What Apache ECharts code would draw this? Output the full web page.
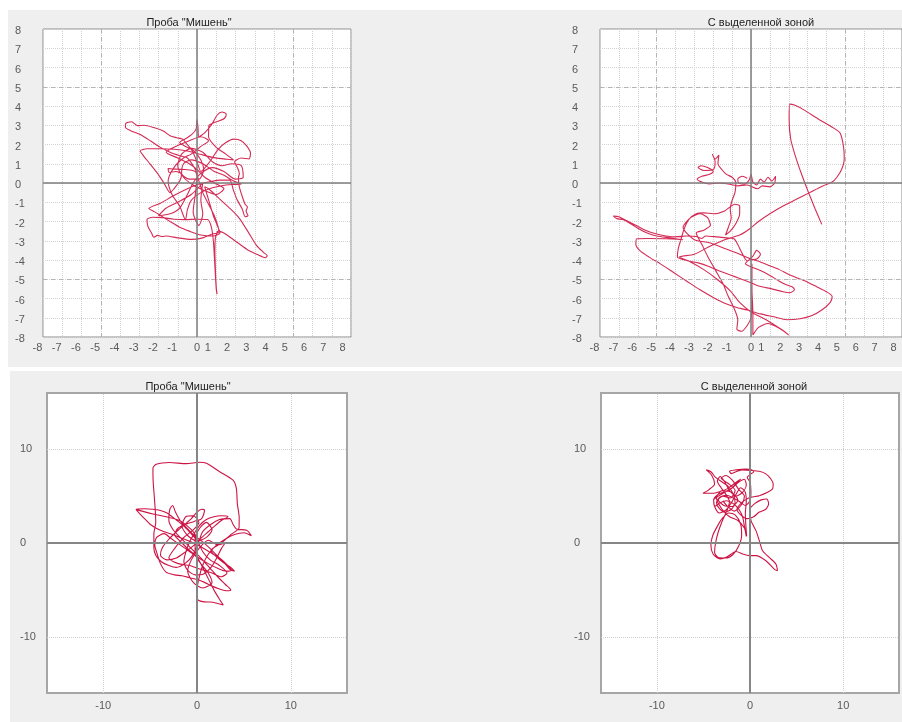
<!DOCTYPE html>
<html>
<head>
<meta charset="utf-8">
<script src="https://cdn.jsdelivr.net/npm/echarts@6/dist/echarts.min.js"></script>
<style>
  html, body { margin: 0; padding: 0; background: #ffffff; }
  #chart { width: 902px; height: 722px; }
</style>
</head>
<body>
<div id="chart"></div>
<script>
// Panel titles
const titleTrial = 'Проба "Мишень"';
const titleZone = 'С выделенной зоной';

// Tick values
const smallTicks = [-8, -7, -6, -5, -4, -3, -2, -1, 0, 1, 2, 3, 4, 5, 6, 7, 8];
const wideTicks = [-10, 0, 10];

// Centre-of-pressure trajectory, trial "Мишень" (upper panel, ±8 scale)
const trialSmall = [
  [0.05,0.45],[-0.2,0.9],[-0.5,1.3],[-0.9,1.42],[-1.4,1.6],[-1.9,1.85],[-2.4,2.18],[-2.95,2.52],[-3.45,2.72],[-3.72,2.9],
  [-3.7,3.1],[-3.4,3.18],[-3.1,2.98],[-2.75,3.0],[-2.25,2.88],[-1.75,2.7],[-1.4,2.45],[-1.05,2.35],[-0.75,2.28],[-0.55,2.05],
  [-0.3,1.75],[-0.1,1.35],[0.05,0.95],[0.2,0.6],[0.5,0.9],[0.8,1.3],[1.1,1.75],[1.5,2.1],[1.9,2.28],[2.3,2.2],
  [2.6,1.9],[2.78,1.55],[2.7,1.25],[2.3,1.3],[1.95,1.1],[2.1,0.8],[2.2,0.5],[2.15,0.25],[2.2,-0.2],[2.35,-0.7],
  [2.5,-1.1],[2.62,-1.25],[2.55,-1.45],[2.65,-1.7],[2.5,-1.75],[2.35,-1.35],[2.1,-0.9],[1.9,-0.4],[1.7,0.15],[1.2,0.15],
  [0.6,0.05],[0.1,-0.05],[-0.5,-0.3],[-1.2,-0.65],[-1.9,-1.05],[-2.5,-1.33],[-2.2,-1.5],[-1.8,-1.75],[-1.4,-2.0],[-0.9,-2.3],
  [-0.4,-2.5],[0.2,-2.7],[0.8,-2.75],[1.2,-2.6],[1.05,-2.2],[0.85,-1.7],[0.7,-1.2],[0.55,-0.7],[0.4,-0.2],[0.6,-0.3],
  [1.2,-0.85],[1.9,-1.5],[2.25,-1.9],[2.68,-2.58],[3.1,-3.25],[3.45,-3.6],[3.65,-3.78],[3.55,-3.88],[3.1,-3.7],[2.6,-3.45],
  [1.9,-2.95],[1.4,-2.6],[1.1,-2.5],[0.95,-2.9],[0.93,-3.6],[0.95,-4.3],[0.97,-4.9],[1.0,-5.4],[1.04,-5.78],[1.0,-5.5],
  [0.95,-4.7],[0.9,-3.8],[0.85,-3.0],[0.75,-2.3],[0.55,-1.9],[0.0,-1.88],[-0.6,-1.9],[-1.2,-1.88],[-1.8,-1.8],[-2.3,-1.78],
  [-2.6,-1.9],[-2.55,-2.25],[-2.35,-2.62],[-2.25,-2.82],[-2.05,-2.72],[-1.8,-2.78],[-1.6,-2.75],[-1.0,-2.85],[-0.3,-2.93],[0.3,-2.85],
  [0.8,-2.65],[1.15,-2.55],[0.9,-1.7],[0.6,-1.1],[0.3,-0.5],[0.1,0.1],[-0.1,0.6],[-0.6,0.7],[-1.1,0.72],[-1.5,0.75],
  [-1.45,0.55],[-1.1,0.6],[-0.8,0.45],[-0.9,0.1],[-1.2,-0.3],[-1.4,-0.5],[-1.73,0.02],[-2.08,0.54],[-2.42,0.97],[-2.77,1.4],
  [-2.95,1.66],[-2.6,1.78],[-1.9,1.78],[-1.2,1.75],[-0.5,1.66],[0.17,1.49],[0.87,1.32],[1.56,1.23],[1.9,1.2],[1.5,1.5],
  [1.0,1.85],[0.6,2.4],[0.62,2.99],[0.87,3.13],[1.13,3.22],[1.42,3.35],[1.52,3.57],[1.3,3.69],[1.04,3.52],[0.8,3.1],
  [0.4,2.6],[0.1,2.4],[0.05,2.9],[0.0,3.3],[-0.05,2.8],[-0.3,2.5],[-0.6,2.3],[-0.9,2.1],[-0.6,1.9],[-0.2,1.7],
  [0.2,1.2],[0.35,0.7],[0.1,0.2],[-0.4,0.2],[-0.8,0.5],[-0.7,1.0],[-0.3,1.2],[0.3,1.0],[0.9,0.6],[1.4,0.4],
  [1.9,0.1],[2.3,-0.05],[1.5,-0.1],[0.8,-0.25],[0.2,-0.5],[-0.3,-0.9],[-0.5,-1.4],[-0.6,-1.9],[-0.9,-1.2],[-1.3,-0.6],
  [-1.5,0.1],[-1.2,0.8],[-0.7,1.3],[-0.3,1.5],[0.2,1.9],[0.6,2.2],[0.2,2.4],[-0.4,2.2],[-1.0,1.95],[-1.6,1.6],
  [-1.0,1.3],[-0.4,1.0],[0.0,0.7],[0.4,0.3],[0.9,0.0],[1.4,-0.3],[1.0,-0.6],[0.4,-0.4],[-0.2,-0.1],[-0.7,0.3],
  [-1.0,0.9],[-0.8,1.5],[-0.3,1.8],[0.3,1.6],[0.8,1.1],[1.3,0.9],[1.8,1.0],[2.3,0.9],[2.4,0.3],[2.0,0.2],
  [1.4,0.6],[0.8,0.8],[0.2,0.5],[-0.2,0.0],[-0.5,-0.6],[-0.9,-1.3],[-1.4,-1.6],[-2.0,-1.7],[-1.6,-1.3],[-1.0,-1.0],
  [-0.3,-0.6],[0.3,0.0],[0.2,-0.9],[0.3,-1.6],[0.1,-2.2],[-0.2,-1.5],[-0.1,-0.7],[0.0,0.2]
];

// Centre-of-pressure trajectory, "С выделенной зоной" (upper panel, ±8 scale)
const zoneSmall = [
  [-0.2,0.25],[-0.45,0.35],[-0.7,0.2],[-0.65,0.0],[-0.35,-0.05],[-0.1,0.15],[0.0,0.45],[0.1,0.05],[0.3,-0.1],[0.5,0.2],
  [0.7,0.05],[0.9,0.3],[1.1,0.1],[1.3,0.35],[1.25,0.0],[1.0,-0.2],[0.6,-0.15],[0.35,-0.3],[-0.2,-0.1],[-0.7,-0.15],
  [-1.2,-0.05],[-1.7,0.0],[-2.2,-0.05],[-2.6,0.05],[-2.85,0.2],[-2.6,0.35],[-2.2,0.45],[-2.0,0.6],[-2.3,0.8],[-2.65,0.9],
  [-2.8,0.8],[-2.5,0.65],[-2.0,0.7],[-1.9,1.1],[-2.05,1.5],[-1.9,1.25],[-1.7,1.45],[-1.75,1.0],[-1.55,0.7],[-1.3,0.45],
  [-1.0,0.3],[-0.8,0.0],[-0.85,-0.5],[-1.0,-0.9],[-1.1,-1.35],[-1.05,-1.8],[-1.2,-2.3],[-1.35,-2.7],[-1.1,-2.5],[-0.8,-2.1],
  [-0.6,-1.6],[-0.6,-1.2],[-0.85,-1.1],[-1.4,-1.45],[-2.0,-1.6],[-2.5,-1.55],[-2.9,-1.6],[-3.3,-1.9],[-3.55,-2.4],[-3.7,-2.9],
  [-3.85,-3.4],[-3.9,-3.85],[-3.3,-4.05],[-2.8,-4.15],[-2.2,-4.35],[-1.6,-4.6],[-0.9,-4.85],[-0.2,-5.1],[0.4,-5.35],[1.1,-5.5],
  [1.7,-5.65],[2.05,-5.7],[2.3,-5.55],[2.2,-5.4],[1.9,-5.3],[1.5,-5.1],[1.0,-4.8],[0.5,-4.55],[0.0,-4.35],[-0.3,-4.2],
  [-0.1,-4.0],[0.3,-3.95],[0.5,-3.7],[0.3,-3.5],[0.1,-3.8],[-0.2,-4.05],[-0.5,-3.6],[-0.7,-3.2],[-0.9,-2.9],[-1.3,-2.85],
  [-1.8,-2.8],[-2.4,-2.75],[-2.6,-2.88],[-2.9,-2.78],[-3.4,-2.75],[-4.0,-2.8],[-4.5,-2.75],[-5.0,-2.65],[-5.6,-2.45],[-6.1,-2.2],
  [-6.6,-1.95],[-7.0,-1.75],[-7.3,-1.72],[-7.1,-1.85],[-6.8,-1.9],[-6.4,-2.1],[-6.0,-2.35],[-5.5,-2.6],[-5.0,-2.75],[-4.3,-2.85],
  [-3.6,-2.95],[-4.5,-2.9],[-5.5,-2.88],[-6.05,-2.9],[-6.1,-3.2],[-5.9,-3.5],[-5.4,-3.85],[-4.8,-4.2],[-4.1,-4.65],[-3.4,-5.1],
  [-2.7,-5.55],[-2.0,-5.95],[-1.4,-6.25],[-0.8,-6.45],[-0.2,-6.6],[0.5,-6.8],[1.2,-6.95],[1.9,-7.1],[2.6,-7.05],[3.2,-6.9],
  [3.75,-6.6],[4.2,-6.2],[4.3,-5.9],[4.0,-5.65],[3.5,-5.4],[3.0,-5.15],[2.5,-4.95],[2.0,-4.75],[1.5,-4.5],[1.0,-4.3],
  [0.5,-4.1],[0.0,-3.95],[-0.6,-3.7],[-1.4,-3.4],[-2.2,-3.1],[-3.0,-2.95],[-3.6,-2.3],[-3.2,-1.8],[-2.7,-1.6],[-2.3,-1.8],
  [-2.15,-2.2],[-2.5,-2.45],[-2.9,-2.6],[-2.6,-3.2],[-2.3,-3.8],[-1.9,-4.5],[-1.5,-5.2],[-1.2,-5.9],[-0.9,-6.5],[-0.7,-7.1],
  [-0.75,-7.6],[-0.5,-7.7],[-0.2,-7.4],[0.0,-7.0],[0.05,-6.0],[0.05,-5.0],[0.05,-4.2],[0.05,-5.5],[0.1,-6.8],[0.1,-7.9],
  [0.4,-7.5],[0.9,-7.3],[1.5,-7.55],[2.0,-7.9],[1.6,-7.6],[0.8,-7.1],[0.0,-6.7],[-0.6,-6.2],[-1.1,-5.6],[-1.8,-5.0],
  [-2.5,-4.5],[-3.2,-4.1],[-3.8,-3.85],[-3.0,-3.7],[-2.2,-3.3],[-1.4,-2.95],[-0.6,-2.7],[-0.1,-2.4],[0.4,-2.0],[1.0,-1.6],
  [1.7,-1.2],[2.4,-0.85],[3.1,-0.5],[3.8,-0.15],[4.3,0.05],[4.55,0.3],[4.8,0.7],[4.94,1.25],[4.9,1.9],[4.72,2.6],
  [4.3,2.9],[3.6,3.3],[2.8,3.8],[2.3,4.05],[2.05,4.1],[2.02,3.3],[2.1,2.3],[2.35,1.4],[2.7,0.4],[3.05,-0.5],
  [3.4,-1.35],[3.75,-2.15]
];

// Trial "Мишень", lower panel (±16 scale)
const trialWide = [
  [0.0,0.3],[-0.8,1.2],[-1.6,2.0],[-2.4,2.6],[-3.2,3.2],[-4.0,3.5],[-4.8,3.6],[-5.6,3.65],[-6.5,3.6],[-6.1,3.1],
  [-5.6,2.6],[-5.0,2.0],[-4.3,1.55],[-3.5,1.2],[-2.6,0.9],[-1.6,0.5],[-0.6,0.1],[0.4,-0.4],[1.4,-1.0],[2.4,-1.6],
  [3.2,-2.3],[3.7,-2.9],[3.1,-3.0],[2.2,-2.7],[1.2,-2.2],[0.2,-1.6],[-0.8,-0.9],[-1.8,-0.2],[-2.8,0.5],[-3.5,1.0],
  [-4.3,0.6],[-4.5,-0.2],[-4.3,-1.0],[-3.9,-2.2],[-3.3,-3.1],[-2.4,-3.4],[-1.6,-3.5],[-0.8,-3.7],[0.0,-3.9],[0.8,-4.2],
  [1.6,-4.6],[2.4,-4.9],[3.2,-5.1],[3.6,-5.0],[3.0,-4.4],[2.2,-3.6],[1.4,-2.7],[0.6,-1.8],[-0.2,-1.0],[-1.0,-0.2],
  [-1.8,0.6],[-2.6,1.5],[-3.0,2.4],[-2.9,3.6],[-2.6,4.0],[-2.3,3.3],[-1.8,2.4],[-1.1,1.6],[-0.3,0.8],[0.5,0.2],
  [1.3,-0.5],[2.1,-1.3],[2.9,-2.1],[3.5,-2.8],[4.0,-3.0],[3.6,-2.6],[2.7,-2.0],[1.5,-0.8],[2.6,0.0],[3.6,0.9],
  [4.48,1.6],[4.5,2.7],[4.3,4.2],[4.2,5.8],[3.84,6.7],[2.42,7.6],[1.0,8.5],[0.28,8.61],[-1.14,8.47],[-2.92,8.58],
  [-4.34,8.4],[-4.7,8.0],[-4.68,6.65],[-4.55,4.87],[-4.45,3.45],[-4.4,2.2],[-4.6,1.0],[-4.6,-0.5],[-4.4,-1.3],[-3.8,-2.0],
  [-3.0,-2.4],[-2.2,-2.6],[-1.3,-2.2],[-0.6,-1.5],[0.0,-0.4],[0.6,1.2],[1.5,2.0],[2.4,2.5],[3.5,2.6],[3.84,2.0],
  [4.2,1.5],[5.3,1.35],[5.8,0.78],[5.0,1.1],[4.0,0.9],[3.0,0.4],[2.0,-0.3],[1.2,-1.2],[0.6,-2.4],[0.2,-3.8],
  [0.0,-5.0],[0.05,-6.0],[0.6,-6.25],[1.4,-6.3],[2.0,-6.4],[2.8,-6.6],[2.4,-6.0],[1.8,-5.0],[1.2,-3.8],[0.6,-2.6],
  [0.0,-1.5],[-0.8,-0.8],[-1.6,0.0],[-2.4,0.9],[-2.0,1.6],[-1.2,2.0],[-0.3,2.3],[0.5,2.6],[0.8,3.5],[0.5,3.6],
  [0.0,3.3],[-0.6,2.6],[-1.4,1.9],[-2.2,1.2],[-3.0,0.4],[-3.7,-0.5],[-3.9,-1.3],[-3.2,-1.8],[-2.2,-1.6],[-1.3,-1.0],
  [-0.4,-0.3],[0.4,0.5],[1.2,1.2],[2.0,1.9],[2.6,2.4],[3.3,2.8],[2.6,2.9],[1.8,2.8],[1.0,2.5],[0.3,1.9],
  [-0.3,1.0],[-0.8,0.1],[-1.2,-1.0],[-1.4,-2.0],[-1.0,-2.9],[-0.2,-3.4],[0.7,-3.3],[1.5,-2.6],[2.1,-1.6],[2.6,-0.6],
  [3.0,0.0],[2.2,-0.2],[1.2,0.3],[0.2,-0.6],[-0.6,-1.8],[-1.0,-3.0],[-0.4,-4.2],[0.6,-4.8],[1.6,-4.2],[1.2,-3.2],
  [0.4,-2.2],[-0.2,-1.2],[-0.2,0.4],[0.3,1.6],[1.0,2.2],[1.6,1.4],[1.0,0.6],[0.0,0.2],[-1.0,0.8],[-1.6,1.8],
  [-1.2,2.8],[-0.4,2.9],[0.2,2.2],[-0.4,1.4],[-1.4,0.6],[-2.4,-0.6],[-3.0,-1.6],[-2.0,-2.2],[-0.8,-2.4],[0.4,-2.8],
  [1.6,-3.2],[2.6,-3.6],[3.2,-3.2],[2.4,-2.4],[1.4,-1.8],[0.6,-0.9],[-0.4,1.2],[-1.85,2.4],[-3.3,2.8],[-4.7,3.1],
  [-6.48,3.56]
];

// "С выделенной зоной", lower panel (±16 scale)
const zoneWide = [
  [-0.4,0.7],[-0.6,1.8],[-0.8,2.8],[-1.2,3.6],[-1.8,4.2],[-2.5,4.5],[-3.2,4.3],[-3.8,3.9],[-3.9,4.6],[-3.4,5.2],
  [-2.6,5.5],[-1.9,5.9],[-1.4,6.5],[-1.0,6.8],[-1.6,6.4],[-2.4,5.8],[-3.2,5.5],[-4.0,5.3],[-5.05,5.3],[-4.4,5.7],
  [-3.8,6.3],[-4.1,7.2],[-4.7,7.8],[-4.2,7.6],[-3.7,7.0],[-3.0,6.5],[-2.3,6.0],[-1.8,5.2],[-1.6,4.3],[-2.0,3.6],
  [-2.7,3.3],[-3.3,3.7],[-3.6,4.3],[-3.2,4.9],[-2.5,5.1],[-1.8,4.8],[-1.1,4.4],[-0.5,4.0],[0.0,4.5],[0.1,5.5],
  [0.0,6.5],[-0.3,7.0],[0.0,7.3],[0.4,7.6],[0.1,7.85],[-0.43,7.9],[-1.5,7.8],[-2.2,7.65],[-2.0,7.4],[-1.5,7.6],
  [-0.8,7.8],[0.1,7.75],[1.0,7.65],[1.7,7.37],[2.24,6.83],[2.49,6.3],[2.42,5.77],[1.89,5.41],[1.0,5.05],[0.11,4.87],
  [-0.5,4.6],[-1.0,4.2],[-1.4,3.6],[-1.0,3.0],[-0.3,2.6],[0.4,2.8],[1.0,3.3],[1.7,3.6],[2.0,4.2],[1.8,4.7],
  [1.2,4.6],[0.5,4.2],[0.0,3.6],[0.11,2.38],[0.64,1.32],[1.0,0.25],[1.35,-0.82],[2.06,-1.53],[2.78,-2.24],[2.95,-2.95],
  [2.6,-2.78],[1.71,-1.89],[0.64,-1.35],[-0.07,-1.35],[-0.78,-1.17],[-1.5,-0.9],[-2.5,-1.5],[-3.2,-1.7],[-3.95,-1.2],[-4.2,-0.2],
  [-4.0,0.8],[-3.5,1.8],[-3.0,2.6],[-2.3,3.2],[-1.6,3.0],[-1.0,2.0],[-0.9,0.8],[-1.2,-0.3],[-1.8,-1.2],[-2.6,-1.6],
  [-3.4,-1.55],[-3.8,-1.0],[-3.7,0.0],[-3.4,1.2],[-3.0,2.3],[-2.5,3.4],[-2.2,4.4],[-2.6,5.2],[-3.1,5.9],[-3.5,6.6],
  [-3.2,7.1],[-2.7,6.5],[-2.2,5.6],[-1.5,5.0],[-0.8,5.4],[-0.4,6.2],[-0.6,6.8],[-1.2,6.5],[-1.9,5.9],[-2.7,5.4],
  [-3.4,5.0],[-3.9,4.6],[-3.8,3.9],[-3.3,3.2],[-2.6,3.5],[-2.0,4.3],[-1.5,5.2],[-1.0,5.9],[-0.5,5.4],[-0.4,4.4],
  [-0.5,3.2],[-0.45,2.0],[-0.36,0.71],[-0.6,1.6],[-1.3,2.4],[-2.2,2.8],[-3.0,3.6],[-3.6,4.8],[-3.0,5.6],[-2.0,5.4],
  [-1.3,4.6],[-1.9,3.9],[-2.8,4.0],[-3.4,4.6],[-2.9,5.0],[-2.1,4.8],[-1.6,5.6],[-2.4,6.4],[-3.1,6.9],[-2.6,7.2],
  [-1.9,6.7],[-1.2,5.7],[-0.6,5.0],[-0.9,4.1],[-1.7,3.4],[-2.4,3.9],[-2.9,4.5]
];

const FONT = 'Liberation Sans';
const LABEL_COLOR = '#5a5a5a';

const chart = echarts.init(document.getElementById('chart'), null, { renderer: 'canvas' });

// Panel frames: [left, top, width, height]
const frames = [
  [43, 29, 308, 308],
  [600, 29, 308, 308],
  [47, 393, 300, 300],
  [601, 393, 300, 300]
];

function smallXAxis(gi) {
  return {
    type: 'value', gridIndex: gi, min: smallTicks[0], max: smallTicks[smallTicks.length - 1], interval: 1,
    axisLine: { show: false }, axisTick: { show: false },
    splitLine: { show: true, lineStyle: { type: 'dotted', color: '#d2d2d2', width: 1 } },
    axisLabel: {
      margin: 5, fontFamily: FONT, fontSize: 11, color: LABEL_COLOR,
      formatter: v => v < 0 ? '{n|' + v + '}' : (v > 0 ? '{p|' + v + '}' : '{z|0}'),
      rich: {
        n: { fontFamily: FONT, fontSize: 11, color: LABEL_COLOR, padding: [0, 11, 0, 0] },
        p: { fontFamily: FONT, fontSize: 11, color: LABEL_COLOR, padding: [0, 17, 0, 0] },
        z: { fontFamily: FONT, fontSize: 11, color: LABEL_COLOR }
      }
    }
  };
}
function smallYAxis(gi) {
  return {
    type: 'value', gridIndex: gi, min: smallTicks[0], max: smallTicks[smallTicks.length - 1], interval: 1,
    axisLine: { show: false }, axisTick: { show: false },
    splitLine: { show: true, lineStyle: { type: 'dotted', color: '#d2d2d2', width: 1 } },
    axisLabel: {
      margin: 28, align: 'left', fontFamily: FONT, fontSize: 11, color: LABEL_COLOR,
      formatter: v => '{a|' + v + '}',
      rich: { a: { fontFamily: FONT, fontSize: 11, color: LABEL_COLOR, padding: [4, 0, 0, 0] } }
    }
  };
}
function wideAxis(gi, isY) {
  const a = {
    type: 'value', gridIndex: gi, min: -16, max: 16, interval: 2,
    axisLine: { show: false }, axisTick: { show: false },
    splitLine: { show: false },
    axisLabel: {
      fontFamily: FONT, fontSize: 11, color: LABEL_COLOR,
      formatter: v => wideTicks.indexOf(v) >= 0 ? String(v) : ''
    }
  };
  if (isY) { a.axisLabel.margin = 27; a.axisLabel.align = 'left'; }
  else { a.axisLabel.margin = 7; }
  return a;
}

// Reference lines: axes through zero and major grid lines
function refLines(gi, major, majorStyle, zeroStyle) {
  const data = [];
  major.forEach(m => {
    data.push({ xAxis: m, lineStyle: majorStyle });
    data.push({ yAxis: m, lineStyle: majorStyle });
  });
  data.push({ xAxis: 0, lineStyle: zeroStyle });
  data.push({ yAxis: 0, lineStyle: zeroStyle });
  return {
    type: 'line', xAxisIndex: gi, yAxisIndex: gi, data: [[0, 0]], showSymbol: false, z: 1,
    lineStyle: { width: 0 }, silent: true,
    markLine: { symbol: ['none', 'none'], silent: true, label: { show: false }, animation: false, data: data }
  };
}
function trace(gi, pts, color) {
  return {
    type: 'line', xAxisIndex: gi, yAxisIndex: gi, data: pts, showSymbol: false, symbol: 'none',
    smooth: 0.25, clip: true, z: 3, silent: true,
    lineStyle: { color: color, width: 1.1 }
  };
}

const smallZero = { color: '#7c7c7c', width: 1.5, type: 'solid' };
const smallMajor = { color: '#b4b4b4', width: 1, type: [4, 4] };
const wideZero = { color: '#868686', width: 2, type: 'solid' };
const wideMajor = { color: '#cfcfcf', width: 1, type: 'dotted' };

const option = {
  animation: false,
  backgroundColor: '#ffffff',
  graphic: [
    { type: 'rect', z: -10, silent: true, shape: { x: 8, y: 10, width: 894, height: 357 }, style: { fill: '#efefef' } },
    { type: 'rect', z: -10, silent: true, shape: { x: 10, y: 371, width: 892, height: 351 }, style: { fill: '#efefef' } }
  ],
  title: [
    { text: titleTrial, left: 184, top: 12, textAlign: 'center', textStyle: { fontFamily: FONT, fontSize: 11, fontWeight: 'normal', color: '#222' } },
    { text: titleZone, left: 756, top: 12, textAlign: 'center', textStyle: { fontFamily: FONT, fontSize: 11, fontWeight: 'normal', color: '#222' } },
    { text: titleTrial, left: 183, top: 376, textAlign: 'center', textStyle: { fontFamily: FONT, fontSize: 11, fontWeight: 'normal', color: '#222' } },
    { text: titleZone, left: 749, top: 376, textAlign: 'center', textStyle: { fontFamily: FONT, fontSize: 11, fontWeight: 'normal', color: '#222' } }
  ],
  grid: frames.map((f, i) => ({
    left: f[0], top: f[1], width: f[2], height: f[3], containLabel: false, show: true,
    backgroundColor: '#ffffff',
    borderColor: i < 2 ? '#8c8c8c' : '#a6a6a6',
    borderWidth: i < 2 ? 1 : 2
  })),
  xAxis: [smallXAxis(0), smallXAxis(1), wideAxis(2, false), wideAxis(3, false)],
  yAxis: [smallYAxis(0), smallYAxis(1), wideAxis(2, true), wideAxis(3, true)],
  series: [
    refLines(0, [-5, 5], smallMajor, smallZero),
    refLines(1, [-5, 5], smallMajor, smallZero),
    refLines(2, [-10, 10], wideMajor, wideZero),
    refLines(3, [-10, 10], wideMajor, wideZero),
    trace(0, trialSmall, '#d42b55'),
    trace(1, zoneSmall, '#d42b55'),
    trace(2, trialWide, '#cc1444'),
    trace(3, zoneWide, '#cc1444')
  ]
};

chart.setOption(option);
</script>
</body>
</html>
